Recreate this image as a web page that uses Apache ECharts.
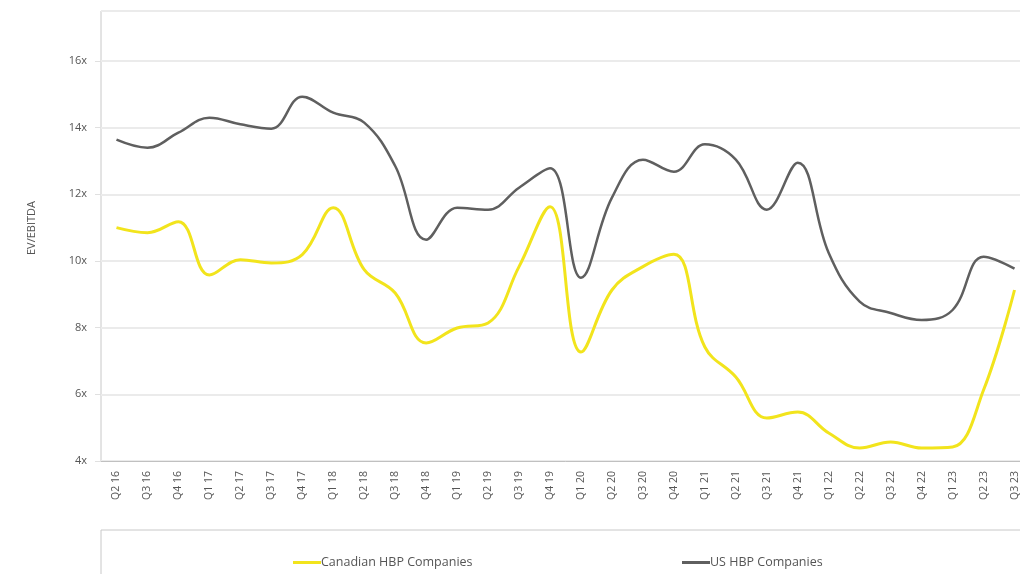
<!DOCTYPE html>
<html>
<head>
<meta charset="utf-8">
<script src="https://cdn.jsdelivr.net/npm/echarts@6/dist/echarts.min.js"></script>
<style>html,body{margin:0;padding:0;background:#fff;overflow:hidden;width:1020px;height:574px;}#c{width:1030px;height:574px;}</style>
</head>
<body>
<div id="c"></div>
<script>
const categories = ['Q2 16','Q3 16','Q4 16','Q1 17','Q2 17','Q3 17','Q4 17','Q1 18','Q2 18','Q3 18','Q4 18','Q1 19','Q2 19','Q3 19','Q4 19','Q1 20','Q2 20','Q3 20','Q4 20','Q1 21','Q2 21','Q3 21','Q4 21','Q1 22','Q2 22','Q3 22','Q4 22','Q1 23','Q2 23','Q3 23'];
const canadian = [11.0,10.85,11.18,9.58,10.04,9.94,10.19,11.6,9.74,9.04,7.54,7.99,8.14,9.83,11.63,7.27,9.13,9.83,10.2,7.42,6.52,5.29,5.47,4.84,4.39,4.57,4.39,4.42,6.13,9.13];
const us = [13.64,13.4,13.85,14.3,14.1,13.97,14.93,14.45,14.15,12.85,10.64,11.6,11.54,12.2,12.78,9.5,11.9,13.04,12.68,13.5,13.04,11.54,12.95,10.24,8.78,8.44,8.23,8.53,10.13,9.77];
const yTicks = [4,6,8,10,12,14,16];

const chart = echarts.init(document.getElementById('c'), null, {renderer:'canvas', width:1030, height:574});
chart.setOption({
  backgroundColor:'#ffffff',
  animation:false,
  grid:{left:101, top:11, right:0, height:450, show:true, borderColor:'#c8c8c8', borderWidth:1, backgroundColor:'transparent'},
  xAxis:{
    type:'category', data:categories, boundaryGap:true,
    axisLine:{show:true, lineStyle:{color:'#c0c0c0', width:1}},
    axisTick:{show:false},
    axisLabel:{rotate:90, color:'#555', fontSize:10.5, fontFamily:'Open Sans', margin:10, interval:0}
  },
  yAxis:{
    type:'value', min:4, max:17.5, interval:2,
    name:'EV/EBITDA', nameLocation:'middle', nameGap:64, nameRotate:90,
    nameTextStyle:{color:'#555', fontSize:11, fontFamily:'Open Sans', padding:[0,0,0,16]},
    axisLine:{show:false},
    axisTick:{show:true, length:6, lineStyle:{color:'#e0e0e0'}},
    splitLine:{show:true, lineStyle:{color:'#ebebeb', width:2}},
    axisLabel:{color:'#555', fontSize:11, fontFamily:'Open Sans', margin:14, showMaxLabel:false,
      formatter:function(v){return yTicks.indexOf(v) >= 0 ? v + 'x' : '';}}
  },
  legend:[
    {left:288, top:551, itemWidth:28, itemHeight:3, itemGap:0, icon:'rect', data:['Canadian HBP Companies'],
     textStyle:{color:'#555', fontSize:12.5, fontFamily:'Open Sans', padding:[0,0,0,-5]}},
    {left:677, top:551, itemWidth:28, itemHeight:3, itemGap:0, icon:'rect', data:['US HBP Companies'],
     textStyle:{color:'#555', fontSize:12.5, fontFamily:'Open Sans', padding:[0,0,0,-5]}}
  ],
  graphic:[
    {type:'rect', shape:{x:101, y:530, width:940, height:60}, style:{fill:'none', stroke:'#c8c8c8', lineWidth:1}, silent:true}
  ],
  series:[
    {name:'Canadian HBP Companies', type:'line', data:canadian, smooth:0.4, symbol:'none',
     lineStyle:{color:'#F2E41C', width:3}, itemStyle:{color:'#F2E41C'}},
    {name:'US HBP Companies', type:'line', data:us, smooth:0.4, symbol:'none',
     lineStyle:{color:'#5f5f5f', width:2.5}, itemStyle:{color:'#5f5f5f'}}
  ]
});
</script>
</body>
</html>
